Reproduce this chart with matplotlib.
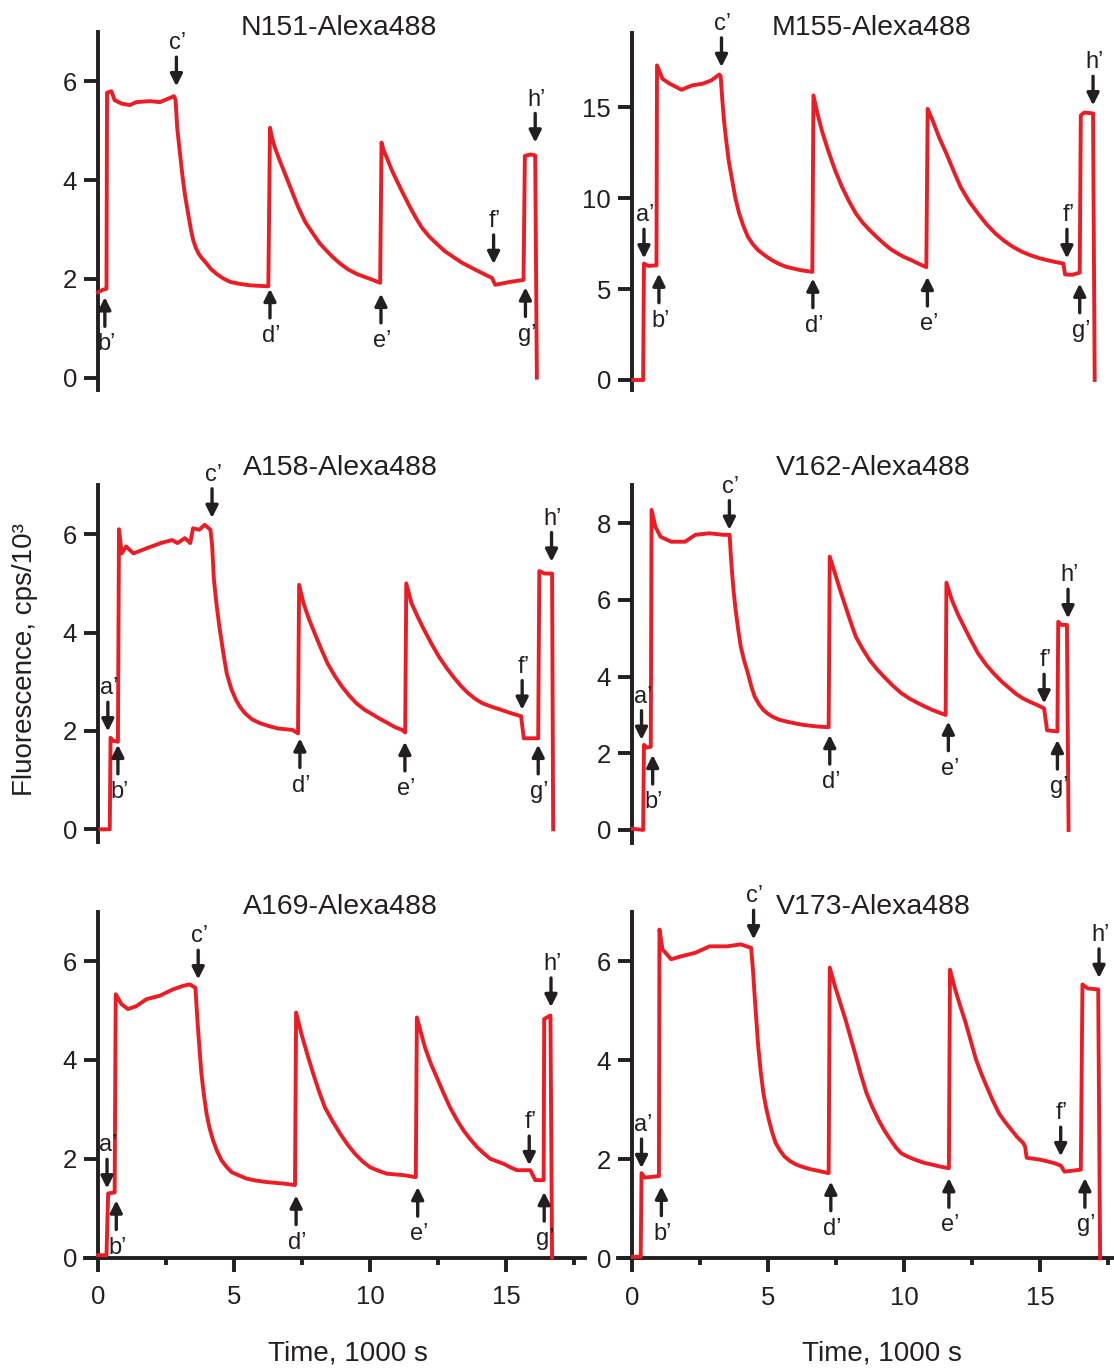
import numpy as np
import matplotlib
matplotlib.use('Agg')
import matplotlib.pyplot as plt
from matplotlib.ticker import MultipleLocator

plt.rcParams['font.family'] = ['Liberation Sans', 'DejaVu Sans']

RED = '#ED1C24'
INK = '#231F20'

# ---- traces (time in 1000 s, fluorescence in cps/10^3) ----
n151_t = [0.0, 0.18, 0.31, 0.33, 0.49, 0.61, 0.86, 1.17, 1.41, 1.90, 2.27, 2.58, 2.79, 2.85,
          2.91, 2.97, 3.04, 3.11, 3.19, 3.27, 3.35, 3.42, 3.50, 3.60, 3.71, 3.82, 3.93, 4.15,
          4.36, 4.60, 4.85, 5.20, 5.58, 5.90, 6.26,
          6.32, 6.40, 6.50, 6.69, 6.93, 7.15, 7.36, 7.62, 7.91, 8.15, 8.40, 8.65, 8.90, 9.20,
          9.51, 10.0, 10.37,
          10.42, 10.50, 10.61, 10.80, 10.98, 11.22, 11.47, 11.68, 11.90, 12.17, 12.45, 12.75,
          13.07, 13.37, 13.68, 14.0, 14.29, 14.48,
          14.60, 15.15, 15.64, 15.69, 15.89, 16.07, 16.13]
n151_v = [1.73, 1.78, 1.80, 5.77, 5.80, 5.62, 5.55, 5.52, 5.58, 5.60, 5.58, 5.65, 5.70, 5.62,
          5.06, 4.75, 4.40, 4.05, 3.72, 3.45, 3.20, 2.98, 2.78, 2.62, 2.50, 2.42, 2.35, 2.20,
          2.10, 2.01, 1.94, 1.90, 1.87, 1.86, 1.85,
          5.06, 4.85, 4.66, 4.38, 4.05, 3.74, 3.45, 3.15, 2.91, 2.72, 2.57, 2.43, 2.31, 2.19,
          2.10, 2.00, 1.92,
          4.76, 4.60, 4.46, 4.20, 3.99, 3.72, 3.45, 3.24, 3.04, 2.86, 2.71, 2.56,
          2.44, 2.33, 2.24, 2.15, 2.07, 2.02,
          1.88, 1.94, 1.98, 4.49, 4.52, 4.50, 0.0]

m155_t = [0.05, 0.41, 0.44, 0.60, 0.90, 0.92, 1.12, 1.37, 1.82, 2.21, 2.59, 2.91, 3.21, 3.26,
          3.32, 3.38, 3.46, 3.56, 3.68, 3.80, 3.94, 4.10, 4.26, 4.45, 4.64, 4.90, 5.15, 5.40,
          5.67, 6.18, 6.63,
          6.67, 6.82, 7.0, 7.21, 7.46, 7.72, 7.98, 8.23, 8.48, 8.74, 9.0, 9.26, 9.5, 9.77,
          10.0, 10.28, 10.55, 10.82,
          10.87, 11.05, 11.3, 11.56, 11.82, 12.08, 12.4, 12.72, 13.04, 13.36, 13.68, 14.0,
          14.32, 14.64, 14.96, 15.28, 15.58, 15.86,
          15.92, 16.18, 16.46, 16.50, 16.63, 16.95, 17.01]
m155_v = [0.0, 0.0, 6.40, 6.27, 6.30, 17.29, 16.55, 16.30, 15.95, 16.19, 16.28, 16.46, 16.79, 16.70,
          15.4, 14.3, 13.2, 12.0, 11.0, 10.0, 9.15, 8.45, 7.87, 7.45, 7.13, 6.83, 6.58, 6.38,
          6.22, 6.04, 5.94,
          15.64, 14.63, 13.6, 12.62, 11.55, 10.61, 9.82, 9.15, 8.65, 8.23, 7.85, 7.50, 7.2, 6.95,
          6.76, 6.58, 6.38, 6.20,
          14.9, 14.27, 13.3, 12.44, 11.5, 10.61, 9.8, 9.15, 8.55, 8.05, 7.65, 7.32,
          7.06, 6.86, 6.7, 6.58, 6.48, 6.40,
          5.80, 5.78, 5.90, 14.54, 14.70, 14.65, 0.0]

a158_t = [0.09, 0.43, 0.46, 0.56, 0.73, 0.77, 0.87, 1.03, 1.30, 1.77, 2.31, 2.72, 2.92, 3.19,
          3.39, 3.49, 3.72, 3.92, 4.13, 4.19,
          4.26, 4.36, 4.46, 4.60, 4.73, 4.90, 5.07, 5.23, 5.40, 5.65, 5.94, 6.27, 6.61, 7.15, 7.35,
          7.39, 7.55, 7.75, 7.96, 8.2, 8.43, 8.7, 8.97, 9.23, 9.50, 9.8, 10.11, 10.38, 10.65,
          10.9, 11.18, 11.29,
          11.33, 11.52, 11.75, 11.99, 12.26, 12.53, 12.8, 13.06, 13.33, 13.60, 13.87, 14.14,
          14.48, 14.81, 15.18, 15.55,
          15.65, 16.18, 16.22, 16.42, 16.69, 16.73]
a158_v = [0.0, 0.0, 1.86, 1.80, 1.78, 6.10, 5.61, 5.75, 5.61, 5.71, 5.82, 5.88, 5.82, 5.92,
          5.82, 6.12, 6.09, 6.19, 6.09, 5.80,
          5.07, 4.55, 4.12, 3.60, 3.17, 2.85, 2.63, 2.48, 2.36, 2.24, 2.16, 2.10, 2.05, 2.02, 1.95,
          4.97, 4.60, 4.28, 3.99, 3.67, 3.38, 3.12, 2.90, 2.72, 2.56, 2.43, 2.33, 2.24, 2.16,
          2.08, 2.02, 1.97,
          5.00, 4.60, 4.32, 4.05, 3.77, 3.51, 3.29, 3.10, 2.92, 2.77, 2.65, 2.56,
          2.49, 2.43, 2.36, 2.30,
          1.85, 1.85, 5.25, 5.20, 5.20, 0.0]

v162_t = [0.03, 0.41, 0.44, 0.54, 0.69, 0.72, 0.86, 1.05, 1.44, 1.95, 2.33, 2.85, 3.36, 3.59,
          3.63, 3.68, 3.74, 3.81, 3.90, 4.00, 4.13, 4.26, 4.38, 4.51, 4.67, 4.83, 5.0, 5.15,
          5.4, 5.67, 6.0, 6.31, 6.8, 7.23,
          7.27, 7.46, 7.65, 7.85, 8.04, 8.23, 8.48, 8.74, 9.0, 9.26, 9.58, 9.90, 10.22, 10.54,
          10.8, 11.05, 11.3, 11.53,
          11.56, 11.76, 11.98, 12.21, 12.46, 12.72, 13.0, 13.29, 13.58, 13.87, 14.12, 14.38,
          14.64, 14.90, 15.15,
          15.26, 15.64, 15.67, 15.79, 15.99, 16.05]
v162_v = [0.03, 0.0, 2.22, 2.15, 2.17, 8.35, 7.91, 7.65, 7.52, 7.52, 7.70, 7.74, 7.70, 7.70,
          7.2, 6.70, 6.2, 5.74, 5.25, 4.78, 4.40, 4.09, 3.76, 3.48, 3.28, 3.13, 3.03, 2.96,
          2.88, 2.83, 2.78, 2.74, 2.70, 2.68,
          7.13, 6.70, 6.26, 5.83, 5.42, 5.04, 4.72, 4.43, 4.2, 4.00, 3.77, 3.57, 3.42, 3.30,
          3.21, 3.13, 3.06, 3.00,
          6.45, 6.00, 5.63, 5.30, 4.95, 4.61, 4.33, 4.09, 3.88, 3.70, 3.55, 3.43,
          3.34, 3.26, 3.17,
          2.60, 2.57, 5.43, 5.35, 5.35, 0.0]

a169_t = [0.0, 0.31, 0.37, 0.61, 0.65, 0.86, 1.10, 1.41, 1.78, 2.27, 2.76, 3.13, 3.37, 3.58,
          3.63, 3.68, 3.74, 3.80, 3.89, 3.99, 4.10, 4.23, 4.38, 4.54, 4.72, 4.91, 5.2, 5.46,
          5.8, 6.20, 6.81, 7.24,
          7.28, 7.48, 7.70, 7.91, 8.12, 8.34, 8.62, 8.90, 9.17, 9.45, 9.72, 10.0, 10.3, 10.61,
          11.23, 11.68,
          11.72, 12.02, 12.23, 12.45, 12.70, 12.94, 13.19, 13.44, 13.68, 13.93, 14.18, 14.42,
          14.66, 14.91, 15.15, 15.40, 15.89,
          16.07, 16.38, 16.40, 16.63, 16.69]
a169_v = [0.05, 0.05, 1.30, 1.32, 5.33, 5.13, 5.03, 5.09, 5.23, 5.30, 5.43, 5.50, 5.53, 5.46,
          5.0, 4.59, 4.15, 3.72, 3.30, 2.91, 2.62, 2.37, 2.15, 1.97, 1.84, 1.73, 1.66, 1.60,
          1.56, 1.53, 1.50, 1.47,
          4.96, 4.52, 4.10, 3.72, 3.37, 3.04, 2.76, 2.51, 2.29, 2.10, 1.95, 1.83, 1.76, 1.70,
          1.67, 1.63,
          4.86, 4.25, 3.93, 3.65, 3.33, 3.04, 2.79, 2.57, 2.40, 2.24, 2.11, 2.00,
          1.95, 1.90, 1.83, 1.77, 1.77,
          1.57, 1.57, 4.83, 4.90, 0.0]

v173_t = [0.03, 0.32, 0.35, 0.47, 0.99, 1.01, 1.12, 1.44, 1.82, 2.33, 2.85, 3.49, 4.00, 4.38,
          4.45, 4.51, 4.58, 4.64, 4.73, 4.83, 4.93, 5.03, 5.15, 5.28, 5.44, 5.60, 5.82, 6.05,
          6.3, 6.56, 6.9, 7.23,
          7.27, 7.46, 7.66, 7.85, 8.04, 8.23, 8.42, 8.62, 8.84, 9.06, 9.28, 9.51, 9.70, 9.90,
          10.15, 10.41, 10.73, 11.05, 11.35, 11.65,
          11.69, 11.88, 12.07, 12.27, 12.46, 12.65, 12.85, 13.04, 13.26, 13.49, 13.72, 13.94,
          14.16, 14.38, 14.45,
          14.51, 15.03, 15.54, 15.77, 15.90, 16.50, 16.56, 16.76, 17.14, 17.21]
v173_v = [0.03, 0.03, 1.72, 1.63, 1.66, 6.64, 6.24, 6.04, 6.10, 6.17, 6.30, 6.30, 6.34, 6.27,
          5.8, 5.29, 4.75, 4.28, 3.78, 3.34, 3.04, 2.80, 2.55, 2.33, 2.18, 2.06, 1.96, 1.89,
          1.84, 1.80, 1.76, 1.72,
          5.87, 5.50, 5.15, 4.82, 4.45, 4.08, 3.70, 3.34, 3.05, 2.80, 2.58, 2.39, 2.24, 2.12,
          2.05, 1.99, 1.93, 1.89, 1.85, 1.82,
          5.83, 5.43, 5.09, 4.75, 4.38, 4.01, 3.72, 3.47, 3.19, 2.93, 2.75, 2.60,
          2.45, 2.33, 2.26,
          2.03, 1.99, 1.92, 1.87, 1.75, 1.79, 5.53, 5.45, 5.43, 0.0]

# ---- marker arrows: (label, time, tip value, 'up' or 'down') ----
n151_arrows = [("b’", 0.25, 1.63, 'up'), ("c’", 2.88, 5.90, 'down'), ("d’", 6.32, 1.80, 'up'),
               ("e’", 10.40, 1.70, 'up'), ("f’", 14.54, 2.30, 'down'), ("g’", 15.71, 1.83, 'up'),
               ("h’", 16.07, 4.76, 'down')]
m155_arrows = [("a’", 0.44, 6.68, 'down'), ("b’", 0.99, 5.85, 'up'), ("c’", 3.29, 17.2, 'down'),
               ("d’", 6.65, 5.58, 'up'), ("e’", 10.86, 5.67, 'up'), ("f’", 15.99, 6.68, 'down'),
               ("g’", 16.46, 5.30, 'up'), ("h’", 16.95, 15.09, 'down')]
a158_arrows = [("a’", 0.36, 1.99, 'down'), ("b’", 0.73, 1.72, 'up'), ("c’", 4.19, 6.33, 'down'),
               ("d’", 7.42, 1.85, 'up'), ("e’", 11.28, 1.78, 'up'), ("f’", 15.59, 2.43, 'down'),
               ("g’", 16.18, 1.72, 'up'), ("h’", 16.67, 5.44, 'down')]
v162_arrows = [("a’", 0.35, 2.35, 'down'), ("b’", 0.76, 1.96, 'up'), ("c’", 3.58, 7.83, 'down'),
               ("d’", 7.27, 2.48, 'up'), ("e’", 11.63, 2.83, 'up'), ("f’", 15.15, 3.30, 'down'),
               ("g’", 15.64, 2.35, 'up'), ("h’", 16.03, 5.52, 'down')]
a169_arrows = [("a’", 0.33, 1.40, 'down'), ("b’", 0.67, 1.16, 'up'), ("c’", 3.68, 5.63, 'down'),
               ("d’", 7.28, 1.26, 'up'), ("e’", 11.75, 1.43, 'up'), ("f’", 15.85, 1.87, 'down'),
               ("g’", 16.40, 1.33, 'up'), ("h’", 16.65, 5.07, 'down')]
v173_arrows = [("a’", 0.35, 1.82, 'down'), ("b’", 1.08, 1.45, 'up'), ("c’", 4.47, 6.44, 'down'),
               ("d’", 7.31, 1.55, 'up'), ("e’", 11.65, 1.62, 'up'), ("f’", 15.76, 2.06, 'down'),
               ("g’", 16.65, 1.62, 'up'), ("h’", 17.17, 5.66, 'down')]

titles = ['N151-Alexa488', 'M155-Alexa488', 'A158-Alexa488',
          'V162-Alexa488', 'A169-Alexa488', 'V173-Alexa488']
yticks = [[0, 2, 4, 6], [0, 5, 10, 15], [0, 2, 4, 6], [0, 2, 4, 6, 8], [0, 2, 4, 6], [0, 2, 4, 6]]
xticks = [0, 5, 10, 15]

W, H = 1114, 1370
fig = plt.figure(figsize=(W / 100, H / 100), dpi=100)


def px_axes(left, right, bottom, top):
    return fig.add_axes([left / W, 1 - bottom / H, (right - left) / W, (bottom - top) / H])


def draw_panel(ax, t, v, arrows, xlim, ylim, yt, bottom_axis):
    ax.plot(t, v, color=RED, lw=2.8, solid_joinstyle='round', clip_on=False, zorder=3)
    ax.set_xlim(*xlim)
    ax.set_ylim(*ylim)
    for s in ['top', 'right']:
        ax.spines[s].set_visible(False)
    ax.spines['left'].set_position(('data', 0))
    ax.spines['left'].set_linewidth(2.8)
    ax.spines['left'].set_color(INK)
    ax.set_yticks(yt)
    ax.tick_params(axis='y', direction='out', length=10, width=2.8, labelsize=18.5,
                   pad=5, colors=INK)
    if bottom_axis:
        ax.spines['bottom'].set_linewidth(2.8)
        ax.spines['bottom'].set_color(INK)
        ax.set_xticks(xticks)
        ax.xaxis.set_minor_locator(MultipleLocator(2.5))
        ax.tick_params(axis='x', which='major', direction='out', length=10, width=2.8,
                       labelsize=18.5, pad=10, colors=INK)
        ax.tick_params(axis='x', which='minor', direction='out', length=5, width=2.8,
                       colors=INK)
    else:
        ax.spines['bottom'].set_visible(False)
        ax.set_xticks([])
    for lab, x, y, d in arrows:
        sgn = 1 if d == 'down' else -1
        ax.annotate('', xy=(x, y), xytext=(0, sgn * 21), textcoords='offset points',
                    arrowprops=dict(arrowstyle='-|>', color=INK, lw=2.4, mutation_scale=18,
                                    shrinkA=0, shrinkB=0), zorder=4)
        off = 31 if d == 'down' else -34
        ax.annotate(lab, xy=(x, y), xytext=(1, off), textcoords='offset points',
                    ha='center', va='center', fontsize=17, color=INK)


left_x = (85, 585)
right_x = (618.4, 1114)
lxlim = (-0.48, 17.9)
rxlim = (-0.5, 17.72)

ax1 = px_axes(*left_x, 390, 32)
draw_panel(ax1, n151_t, n151_v, n151_arrows, lxlim, (-0.25, 7.0), yticks[0], False)
ax2 = px_axes(*right_x, 390, 33)
draw_panel(ax2, m155_t, m155_v, m155_arrows, rxlim, (-0.55, 19.07), yticks[1], False)
ax3 = px_axes(*left_x, 841.6, 485)
draw_panel(ax3, a158_t, a158_v, a158_arrows, lxlim, (-0.25, 7.0), yticks[2], False)
ax4 = px_axes(*right_x, 843, 485)
draw_panel(ax4, v162_t, v162_v, v162_arrows, rxlim, (-0.34, 9.0), yticks[3], False)
ax5 = px_axes(*left_x, 1257.7, 911.7)
draw_panel(ax5, a169_t, a169_v, a169_arrows, lxlim, (0, 7.0), yticks[4], True)
ax6 = px_axes(*right_x, 1258.3, 911.7)
draw_panel(ax6, v173_t, v173_v, v173_arrows, rxlim, (0, 7.0), yticks[5], True)

title_pos = [(339, 28), (872, 28), (340, 468), (873, 468), (340, 907), (873, 907)]
for (x, y), ttl in zip(title_pos, titles):
    fig.text(x / W, 1 - y / H, ttl, ha='center', va='center', fontsize=20.5, color=INK)

fig.text(348 / W, 1 - 1353 / H, 'Time, 1000 s', ha='center', va='center', fontsize=20, color=INK)
fig.text(882 / W, 1 - 1353 / H, 'Time, 1000 s', ha='center', va='center', fontsize=20, color=INK)
fig.text(25 / W, 1 - 660 / H, 'Fluorescence, cps/10³', ha='center', va='center',
         rotation=90, fontsize=20, color=INK)

fig.savefig('out.png', dpi=100)
